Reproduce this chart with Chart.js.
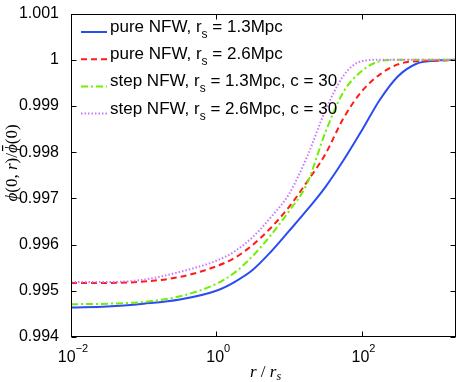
<!DOCTYPE html>
<html>
<head>
<meta charset="utf-8">
<script src="https://cdn.jsdelivr.net/npm/chart.js@4.4.0/dist/chart.umd.min.js"></script>
<style>
  html, body { margin: 0; padding: 0; background: #fff; }
</style>
</head>
<body>
<canvas id="chart" width="463" height="382"></canvas>
<script>
// r / r_s sample points (log spaced)
const rValues = [0.01, 0.0316, 0.1, 0.316, 1, 1.78, 3.16, 5.62, 10, 17.8, 31.6, 56.2, 100, 178, 316, 562, 1000, 2000];

const pureNfw13 = [0.99464, 0.99466, 0.99472, 0.99481, 0.99500, 0.99519, 0.99545, 0.99584, 0.99629, 0.99675, 0.99724, 0.99782, 0.99846, 0.99913, 0.99964, 0.99991, 0.99998, 1.0];
const pureNfw26 = [0.99517, 0.99517, 0.99520, 0.99530, 0.99553, 0.99571, 0.99599, 0.99636, 0.99681, 0.99736, 0.99795, 0.99873, 0.99931, 0.99968, 0.99990, 0.99997, 0.99998, 1.0];
const stepNfw13 = [0.99471, 0.99472, 0.99476, 0.99488, 0.99515, 0.99539, 0.99575, 0.99620, 0.99672, 0.99732, 0.99842, 0.99930, 0.99975, 0.99997, 1.0, 1.0, 1.0, 1.0];
const stepNfw26 = [0.99519, 0.99519, 0.99524, 0.99541, 0.99565, 0.99585, 0.99616, 0.99659, 0.99709, 0.99790, 0.99889, 0.99965, 0.99997, 1.0, 1.0, 1.0, 1.0, 1.0];

const seriesLabels = [
    'pure NFW, r_s = 1.3Mpc',
    'pure NFW, r_s = 2.6Mpc',
    'step NFW, r_s = 1.3Mpc, c = 30',
    'step NFW, r_s = 2.6Mpc, c = 30'
];

const xTicks = [0.01, 1, 100];
const xTickExps = ['\u22122', '0', '2'];
const xMin = 0.01, xMax = 2000;
const yMin = 0.994, yMax = 1.001, yStep = 0.001;

const SANS = "'Liberation Sans', Arial, sans-serif";
const SERIF = "'Liberation Serif', 'DejaVu Serif', serif";

function toPoints(values) {
    return rValues.map((r, i) => ({ x: r, y: values[i] }));
}

const styles = [
    { color: '#2b4cf2', dash: [], order: 4 },
    { color: '#ff1a1a', dash: [6, 4], order: 3 },
    { color: '#6ef000', dash: [7, 3, 2, 3], order: 2 },
    { color: '#cc77ff', dash: [1.5, 2], order: 1 }
];

const series = [pureNfw13, pureNfw26, stepNfw13, stepNfw26];

const datasets = series.map((vals, i) => ({
    label: seriesLabels[i],
    data: toPoints(vals),
    borderColor: styles[i].color,
    borderDash: styles[i].dash,
    borderWidth: 2,
    order: styles[i].order,
    fill: false,
    pointRadius: 0,
    cubicInterpolationMode: 'monotone'
}));

// draw a run of text pieces, each with its own font and vertical shift
function drawParts(ctx, parts, x, y) {
    parts.forEach(p => {
        ctx.font = p.font;
        const w = ctx.measureText(p.t).width;
        ctx.fillText(p.t, x, y + (p.dy || 0));
        if (p.bar) {
            ctx.fillRect(x + 2, y - 15, w - 3, 1.2);
        }
        x += w;
    });
    return x;
}

function partsWidth(ctx, parts) {
    let w = 0;
    parts.forEach(p => { ctx.font = p.font; w += ctx.measureText(p.t).width; });
    return w;
}

function labelParts(label) {
    const bits = label.split('_s');
    const parts = [{ t: bits[0], font: '17px ' + SANS }];
    if (bits.length > 1) {
        parts.push({ t: 's', font: '12px ' + SANS, dy: 6 });
        parts.push({ t: bits[1], font: '17px ' + SANS });
    }
    return parts;
}

const framePlugin = {
    id: 'frame',
    afterDraw(chart) {
        const { ctx, chartArea: a, scales: { x, y } } = chart;
        const L = Math.round(a.left) + 0.5, R = Math.round(a.right) - 0.5;
        const T = Math.round(a.top) + 0.5, B = Math.round(a.bottom) - 0.5;
        ctx.save();
        ctx.strokeStyle = '#000';
        ctx.lineWidth = 1;
        ctx.setLineDash([]);
        ctx.strokeRect(L, T, R - L, B - T);

        // inward tick marks on all four sides
        ctx.beginPath();
        xTicks.forEach(v => {
            const px = Math.round(x.getPixelForValue(v)) + 0.5;
            ctx.moveTo(px, B); ctx.lineTo(px, B - 5);
            ctx.moveTo(px, T); ctx.lineTo(px, T + 5);
        });
        y.ticks.forEach(t => {
            const py = Math.round(y.getPixelForValue(t.value)) + 0.5;
            ctx.moveTo(L, py); ctx.lineTo(L + 5, py);
            ctx.moveTo(R, py); ctx.lineTo(R - 5, py);
        });
        ctx.stroke();

        // x tick labels 10^n
        ctx.fillStyle = '#000';
        ctx.textAlign = 'left';
        ctx.textBaseline = 'alphabetic';
        xTicks.forEach((v, i) => {
            const parts = [
                { t: '10', font: '16px ' + SANS },
                { t: xTickExps[i], font: '11px ' + SANS, dy: -10 }
            ];
            const px = x.getPixelForValue(v);
            const w = partsWidth(ctx, parts);
            drawParts(ctx, parts, px - w / 2 + 2, 362);
        });

        // x axis title r / r_s
        const xt = [
            { t: 'r', font: 'italic 17px ' + SERIF },
            { t: ' / ', font: '17px ' + SERIF },
            { t: 'r', font: 'italic 17px ' + SERIF },
            { t: 's', font: 'italic 12px ' + SERIF, dy: 3 }
        ];
        const xw = partsWidth(ctx, xt);
        drawParts(ctx, xt, (a.left + a.right) / 2 - xw / 2 + 2, 377);

        // y axis title
        const yt = [
            { t: '\u03D5', font: 'italic 17px ' + SERIF },
            { t: '(0, ', font: '17px ' + SERIF },
            { t: 'r', font: 'italic 17px ' + SERIF },
            { t: ')/', font: '17px ' + SERIF },
            { t: '\u03D5', font: 'italic 17px ' + SERIF, bar: true },
            { t: '(0)', font: '17px ' + SERIF }
        ];
        const yw = partsWidth(ctx, yt);
        ctx.save();
        ctx.translate(17, 163);
        ctx.rotate(-Math.PI / 2);
        drawParts(ctx, yt, -yw / 2, 0);
        ctx.restore();

        // legend
        chart.data.datasets.forEach((ds, i) => {
            const ly = 32 + i * 27.2;
            ctx.strokeStyle = ds.borderColor;
            ctx.lineWidth = 2;
            ctx.setLineDash(ds.borderDash);
            ctx.beginPath();
            ctx.moveTo(81, ly);
            ctx.lineTo(107, ly);
            ctx.stroke();
            ctx.setLineDash([]);
            ctx.fillStyle = '#000';
            drawParts(ctx, labelParts(ds.label), 110, ly);
        });
        ctx.restore();
    }
};

new Chart(document.getElementById('chart'), {
    type: 'line',
    data: { datasets },
    options: {
        responsive: false,
        animation: false,
        devicePixelRatio: 1,
        layout: { padding: { left: 0, top: 12, right: 7, bottom: 0 } },
        plugins: { legend: { display: false }, tooltip: { enabled: false } },
        scales: {
            x: {
                type: 'logarithmic',
                min: xMin,
                max: xMax,
                grid: { display: false },
                border: { display: false },
                ticks: { display: false },
                afterBuildTicks: s => { s.ticks = xTicks.map(v => ({ value: v })); },
                afterFit: s => { s.height = 45; }
            },
            y: {
                min: yMin,
                max: yMax,
                grid: { display: false },
                border: { display: false },
                ticks: {
                    stepSize: yStep,
                    color: '#000',
                    padding: 4,
                    font: { family: SANS, size: 16 },
                    callback: v => String(Number(v.toFixed(3)))
                },
                afterFit: s => { s.width = 71; }
            }
        }
    },
    plugins: [framePlugin]
});
</script>
</body>
</html>
